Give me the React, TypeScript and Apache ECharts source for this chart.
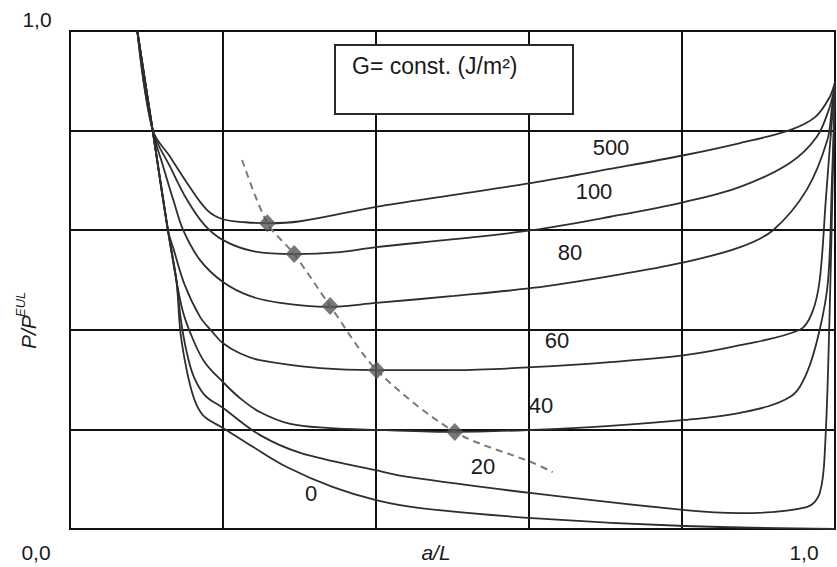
import React, { useEffect, useRef } from 'react';
import * as echarts from 'echarts';

// G values (J/m²) for each curve, top to bottom
const curveNames = ['500', '100', '80', '60', '40', '20', '0'];

// [a/L, P/P_EUL]
const curve500 = [
  [0.088, 1.0], [0.108, 0.801], [0.131, 0.747], [0.153, 0.695], [0.179, 0.641], [0.2, 0.622],
  [0.229, 0.616], [0.258, 0.614], [0.301, 0.618], [0.4, 0.647], [0.502, 0.671], [0.604, 0.695],
  [0.706, 0.723], [0.804, 0.751], [0.876, 0.775], [0.941, 0.801], [0.974, 0.827], [0.993, 0.867], [1.0, 0.898],
];
const curve100 = [
  [0.088, 1.0], [0.108, 0.801], [0.131, 0.727], [0.153, 0.661], [0.176, 0.61], [0.2, 0.58],
  [0.239, 0.558], [0.293, 0.552], [0.353, 0.556], [0.4, 0.566], [0.502, 0.582], [0.604, 0.6],
  [0.706, 0.627], [0.804, 0.657], [0.876, 0.687], [0.941, 0.735], [0.976, 0.787], [0.993, 0.847], [1.0, 0.892],
];
const curve80 = [
  [0.088, 1.0], [0.108, 0.801], [0.122, 0.727], [0.135, 0.661], [0.148, 0.6], [0.17, 0.54],
  [0.2, 0.496], [0.235, 0.468], [0.275, 0.454], [0.337, 0.446], [0.4, 0.454], [0.502, 0.468],
  [0.604, 0.484], [0.706, 0.508], [0.804, 0.536], [0.876, 0.566], [0.919, 0.6], [0.963, 0.681],
  [0.99, 0.781], [0.996, 0.847], [1.0, 0.892],
];
const curve60 = [
  [0.088, 1.0], [0.108, 0.801], [0.128, 0.6], [0.135, 0.564], [0.15, 0.49], [0.17, 0.426],
  [0.186, 0.396], [0.2, 0.373], [0.222, 0.353], [0.248, 0.339], [0.327, 0.323], [0.401, 0.319],
  [0.502, 0.319], [0.604, 0.325], [0.706, 0.335], [0.804, 0.349], [0.876, 0.369], [0.954, 0.4],
  [0.97, 0.434], [0.98, 0.5], [0.988, 0.661], [0.996, 0.821], [1.0, 0.886],
];
const curve40 = [
  [0.088, 1.0], [0.108, 0.801], [0.128, 0.6], [0.139, 0.5], [0.148, 0.434], [0.161, 0.38],
  [0.176, 0.335], [0.2, 0.295], [0.222, 0.263], [0.248, 0.235], [0.288, 0.211], [0.336, 0.203],
  [0.401, 0.199], [0.503, 0.195], [0.604, 0.199], [0.706, 0.207], [0.804, 0.219], [0.876, 0.233],
  [0.941, 0.265], [0.963, 0.313], [0.98, 0.4], [0.991, 0.5], [0.996, 0.701], [1.0, 0.882],
];
const curve20 = [
  [0.088, 1.0], [0.108, 0.801], [0.128, 0.6], [0.139, 0.5], [0.145, 0.42], [0.152, 0.359],
  [0.161, 0.309], [0.176, 0.269], [0.2, 0.243], [0.248, 0.189], [0.301, 0.153], [0.4, 0.118],
  [0.444, 0.104], [0.604, 0.072], [0.804, 0.038], [0.876, 0.032], [0.963, 0.044], [0.98, 0.072],
  [0.987, 0.165], [0.993, 0.434], [0.997, 0.701], [1.0, 0.871],
];
const curve0 = [
  [0.088, 1.0], [0.108, 0.801], [0.128, 0.6], [0.139, 0.5], [0.144, 0.4], [0.15, 0.339],
  [0.157, 0.289], [0.165, 0.251], [0.176, 0.225], [0.2, 0.203], [0.239, 0.165], [0.284, 0.124],
  [0.344, 0.084], [0.4, 0.058], [0.458, 0.042], [0.604, 0.022], [0.804, 0.006], [1.0, 0.0],
];

// dashed locus of minima and its marked points
const optimumLine = [
  [0.225, 0.741], [0.258, 0.614], [0.293, 0.552], [0.34, 0.448], [0.401, 0.319],
  [0.503, 0.195], [0.605, 0.133], [0.631, 0.114],
];
const optimumPoints = [
  [0.258, 0.614], [0.293, 0.552], [0.34, 0.448], [0.401, 0.319], [0.503, 0.195],
];

const FONT = '"Liberation Sans", Arial, sans-serif';

export default function App() {
  const ref = useRef<HTMLDivElement>(null);
  useEffect(() => {
    const chart = echarts.init(ref.current!, null, { renderer: 'svg' });
    const curves = [curve500, curve100, curve80, curve60, curve40, curve20, curve0];
    const lineSeries = curves.map((d, i) => ({
      type: 'line',
      name: curveNames[i],
      data: d,
      smooth: 0.35,
      symbol: 'none',
      clip: false,
      lineStyle: { color: '#2e2e2e', width: 1.8 },
      z: 3,
    }));

    const labelPos: [number, number, string][] = [
      [611, 147, curveNames[0]],
      [594, 191, curveNames[1]],
      [570, 252, curveNames[2]],
      [557, 340, curveNames[3]],
      [541, 405, curveNames[4]],
      [483, 466, curveNames[5]],
      [311, 493, curveNames[6]],
    ];

    const txt = (x: number, y: number, text: string, size: number, extra: any = {}) => ({
      type: 'text',
      x,
      y,
      z: 20,
      style: {
        text,
        fill: '#1a1a1a',
        font: `${extra.italic ? 'italic ' : ''}${size}px ${FONT}`,
        textAlign: extra.align || 'center',
        textVerticalAlign: 'middle',
      },
    });

    chart.setOption({
      animation: false,
      backgroundColor: '#fff',
      grid: {
        left: 70,
        top: 31,
        width: 765,
        height: 498,
        show: true,
        borderColor: '#111',
        borderWidth: 2,
        backgroundColor: 'transparent',
      },
      xAxis: {
        type: 'value',
        min: 0,
        max: 1,
        interval: 0.2,
        axisLabel: { show: false },
        axisTick: { show: false },
        axisLine: { show: false },
        splitLine: { show: true, lineStyle: { color: '#111', width: 2 } },
      },
      yAxis: {
        type: 'value',
        min: 0,
        max: 1,
        interval: 0.2,
        axisLabel: { show: false },
        axisTick: { show: false },
        axisLine: { show: false },
        splitLine: { show: true, lineStyle: { color: '#111', width: 2 } },
      },
      series: [
        ...lineSeries,
        {
          type: 'line',
          name: 'optimum',
          data: optimumLine,
          smooth: 0.3,
          symbol: 'none',
          lineStyle: { color: '#7a7a7a', width: 2, type: [7, 5] },
          z: 4,
        },
        {
          type: 'scatter',
          name: 'minima',
          data: optimumPoints,
          symbol: 'diamond',
          symbolSize: [17, 18],
          itemStyle: { color: '#555555' },
          z: 5,
        },
      ],
      graphic: [
        {
          type: 'rect',
          z: 15,
          shape: { x: 335, y: 45, width: 238, height: 69 },
          style: { fill: '#fff', stroke: '#2a2a2a', lineWidth: 2 },
        },
        txt(352, 66, 'G= const. (J/m²)', 23, { align: 'left' }),
        txt(37, 19, '1,0', 21),
        txt(36, 552, '0,0', 21),
        txt(804, 552, '1,0', 21),
        txt(436, 552, 'a/L', 21, { italic: true }),
        {
          type: 'group',
          x: 28,
          y: 315,
          rotation: Math.PI / 2,
          z: 20,
          children: [
            {
              type: 'text',
              x: -34,
              y: 0,
              style: {
                text: 'P/P',
                fill: '#1a1a1a',
                font: `italic 21px ${FONT}`,
                textAlign: 'left',
                textVerticalAlign: 'middle',
              },
            },
            {
              type: 'text',
              x: -2,
              y: -8,
              style: {
                text: 'EUL',
                fill: '#1a1a1a',
                font: `italic 13px ${FONT}`,
                textAlign: 'left',
                textVerticalAlign: 'middle',
              },
            },
          ],
        },
        ...labelPos.map(([x, y, t]) => txt(x, y, t, 22)),
      ],
    });
    return () => chart.dispose();
  }, []);
  return <div ref={ref} style={{ position: 'fixed', left: 0, top: 0, width: 837, height: 567 }} />;
}
